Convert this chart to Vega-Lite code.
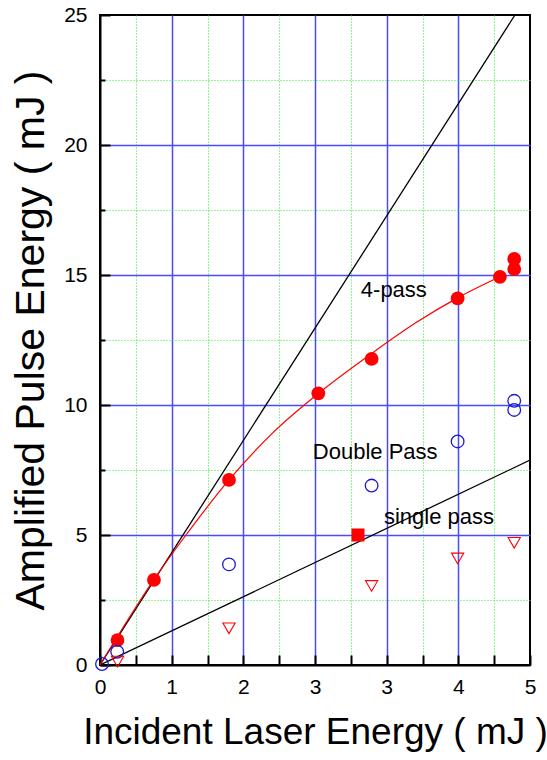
{
  "$schema": "https://vega.github.io/schema/vega-lite/v6.json",
  "width": 430,
  "height": 650,
  "autosize": {"type": "none"},
  "padding": {"left": 100, "top": 15, "right": 17, "bottom": 95},
  "background": "white",
  "config": {
    "font": "Liberation Sans",
    "view": {"stroke": "black", "strokeWidth": 2}
  },
  "datasets": {
    "pts": [
      {"x": 0.244, "y": 0.96, "series": "4-pass"},
      {"x": 0.753, "y": 3.27, "series": "4-pass"},
      {"x": 1.80, "y": 7.12, "series": "4-pass"},
      {"x": 3.046, "y": 10.45, "series": "4-pass"},
      {"x": 3.79, "y": 11.77, "series": "4-pass"},
      {"x": 4.99, "y": 14.10, "series": "4-pass"},
      {"x": 5.58, "y": 14.93, "series": "4-pass"},
      {"x": 5.78, "y": 15.62, "series": "4-pass"},
      {"x": 5.78, "y": 15.23, "series": "4-pass"},
      {"x": 0.028, "y": 0.04, "series": "Double Pass"},
      {"x": 0.24, "y": 0.51, "series": "Double Pass"},
      {"x": 1.80, "y": 3.87, "series": "Double Pass"},
      {"x": 3.79, "y": 6.90, "series": "Double Pass"},
      {"x": 4.99, "y": 8.60, "series": "Double Pass"},
      {"x": 5.78, "y": 10.16, "series": "Double Pass"},
      {"x": 5.78, "y": 9.81, "series": "Double Pass"},
      {"x": 0.245, "y": 0.13, "series": "single pass"},
      {"x": 1.80, "y": 1.41, "series": "single pass"},
      {"x": 3.79, "y": 3.04, "series": "single pass"},
      {"x": 4.99, "y": 4.10, "series": "single pass"},
      {"x": 5.78, "y": 4.70, "series": "single pass"},
      {"x": 3.6, "y": 5.0, "series": "square"}
    ],
    "lines": [
      {"x": 0, "y": 0, "line": "steep"},
      {"x": 5.79, "y": 25, "line": "steep"},
      {"x": 0, "y": 0, "line": "shallow"},
      {"x": 6, "y": 7.88, "line": "shallow"}
    ],
    "fit": [
      {"x": 0, "y": 0},
      {"x": 0.75, "y": 3.28},
      {"x": 1.2, "y": 5.0},
      {"x": 1.8, "y": 7.12},
      {"x": 2.4, "y": 8.9},
      {"x": 3.05, "y": 10.45},
      {"x": 3.79, "y": 11.98},
      {"x": 4.4, "y": 13.15},
      {"x": 4.99, "y": 14.12},
      {"x": 5.58, "y": 14.93}
    ],
    "labels": [
      {"x": 4.10, "y": 14.42, "text": "4-pass"},
      {"x": 3.84, "y": 8.19, "text": "Double Pass"},
      {"x": 4.73, "y": 5.70, "text": "single pass"}
    ]
  },
  "encoding": {
    "x": {
      "field": "x", "type": "quantitative",
      "scale": {"domain": [0, 6], "nice": false, "zero": false},
      "axis": {
        "title": "Incident Laser Energy ( mJ )",
        "titleFontSize": 37, "titleFontWeight": "normal", "titleColor": "black",
        "titlePadding": 17,
        "values": [0, 0.5, 1, 1.5, 2, 2.5, 3, 3.5, 4, 4.5, 5, 5.5, 6],
        "labelExpr": "datum.value % 1 != 0 ? '' : (datum.value <= 3 ? '' + datum.value : '' + (datum.value - 1))",
        "labelFontSize": 21, "labelColor": "black", "labelPadding": 21,
        "labelFlush": false, "labelOverlap": false,
        "domainColor": "black", "domainWidth": 2,
        "tickColor": "black", "tickWidth": 2, "tickSize": -10,
        "grid": true,
        "gridColor": {"condition": {"test": "datum.value % 1 === 0", "value": "#4a4aff"}, "value": "#22ee22"},
        "gridDash": {"condition": {"test": "datum.value % 1 === 0", "value": []}, "value": [1, 2]},
        "gridWidth": {"condition": {"test": "datum.value % 1 === 0", "value": 1.5}, "value": 1},
        "gridOpacity": {"condition": {"test": "datum.value === 0 || datum.value === 6", "value": 0}, "value": 1}
      }
    },
    "y": {
      "field": "y", "type": "quantitative",
      "scale": {"domain": [0, 25], "nice": false},
      "axis": {
        "title": "Amplified Pulse Energy ( mJ )",
        "titleFontSize": 41, "titleFontWeight": "normal", "titleColor": "black",
        "titlePadding": 11,
        "values": [0, 2.5, 5, 7.5, 10, 12.5, 15, 17.5, 20, 22.5, 25],
        "labelExpr": "datum.value % 5 != 0 ? '' : '' + datum.value",
        "labelFontSize": 21, "labelColor": "black", "labelPadding": 23,
        "labelFlush": false, "labelOverlap": false,
        "domainColor": "black", "domainWidth": 2,
        "tickColor": "black", "tickWidth": 2,
        "tickSize": {"condition": {"test": "datum.value % 5 === 0", "value": -10}, "value": -5},
        "grid": true,
        "gridColor": {"condition": {"test": "datum.value % 5 === 0", "value": "#4a4aff"}, "value": "#22ee22"},
        "gridDash": {"condition": {"test": "datum.value % 5 === 0", "value": []}, "value": [1, 2]},
        "gridWidth": {"condition": {"test": "datum.value % 5 === 0", "value": 1.5}, "value": 1},
        "gridOpacity": {"condition": {"test": "datum.value === 0 || datum.value === 25", "value": 0}, "value": 1}
      }
    }
  },
  "layer": [
    {
      "data": {"name": "lines"},
      "mark": {"type": "line", "color": "black", "strokeWidth": 1.3, "clip": true},
      "encoding": {"detail": {"field": "line", "type": "nominal"}}
    },
    {
      "data": {"name": "fit"},
      "mark": {"type": "line", "color": "#ff0000", "strokeWidth": 1.2, "interpolate": "monotone", "clip": true}
    },
    {
      "data": {"name": "pts"},
      "transform": [{"filter": "datum.series === '4-pass'"}],
      "mark": {"type": "point", "shape": "circle", "filled": true, "color": "#ff0000", "size": 190, "opacity": 1}
    },
    {
      "data": {"name": "pts"},
      "transform": [{"filter": "datum.series === 'Double Pass'"}],
      "mark": {"type": "point", "shape": "circle", "filled": false, "color": "#1a1acc", "size": 160, "strokeWidth": 1.3, "opacity": 1}
    },
    {
      "data": {"name": "pts"},
      "transform": [{"filter": "datum.series === 'single pass'"}],
      "mark": {"type": "point", "shape": "triangle-down", "filled": false, "color": "#ff0000", "size": 150, "strokeWidth": 1.1, "opacity": 1}
    },
    {
      "data": {"name": "pts"},
      "transform": [{"filter": "datum.series === 'square'"}],
      "mark": {"type": "point", "shape": "square", "filled": true, "color": "#ff0000", "size": 170, "opacity": 1}
    },
    {
      "data": {"name": "labels"},
      "mark": {"type": "text", "fontSize": 22, "color": "black", "align": "center", "baseline": "middle"},
      "encoding": {"text": {"field": "text", "type": "nominal"}}
    }
  ]
}
